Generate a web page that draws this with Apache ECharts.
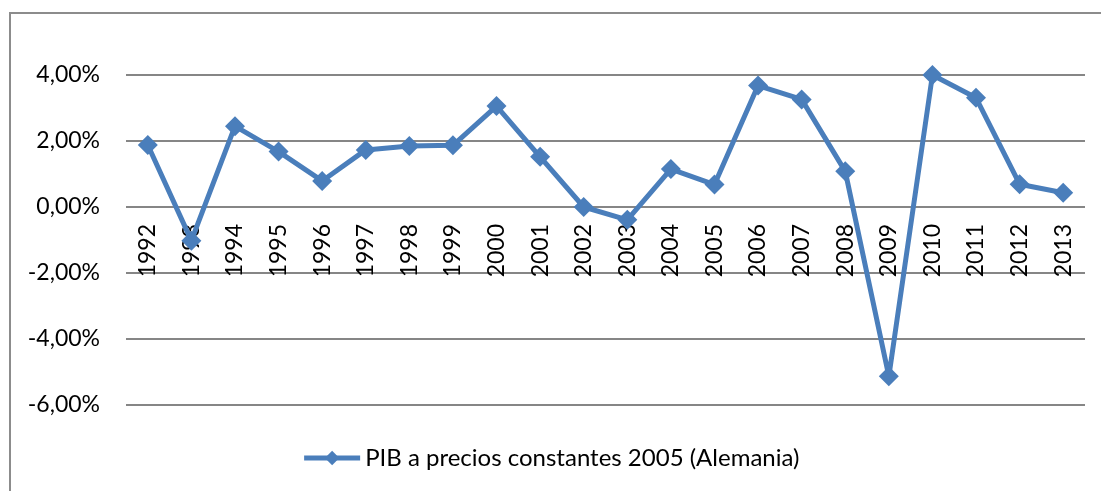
<!DOCTYPE html>
<html>
<head>
<meta charset="utf-8">
<script src="https://cdn.jsdelivr.net/npm/echarts@6/dist/echarts.min.js"></script>
<style>
  html, body { margin: 0; padding: 0; background: #fff; }
  #frame {
    position: absolute; left: 9px; top: 12px;
    width: 1100px; height: 490px;
    border: 2px solid #8c8c8c; box-sizing: border-box;
  }
  #chart { position: absolute; left: 0; top: 0; width: 1101px; height: 491px; }
</style>
</head>
<body>
<div id="frame"></div>
<div id="chart"></div>
<script>
  // años y crecimiento del PIB (%)
  const years = ['1992','1993','1994','1995','1996','1997','1998','1999','2000','2001','2002',
                 '2003','2004','2005','2006','2007','2008','2009','2010','2011','2012','2013'];
  const pib = [1.88, -1.02, 2.45, 1.68, 0.79, 1.73, 1.85, 1.87, 3.06, 1.52, 0.0,
               -0.39, 1.15, 0.68, 3.68, 3.26, 1.08, -5.13, 4.0, 3.31, 0.69, 0.43];
  const serieName = 'PIB a precios constantes 2005 (Alemania)';

  const font = 'Lato, "Liberation Sans", sans-serif';
  const azul = '#4a7ebb';
  let myChart = echarts.init(document.getElementById('chart'));
  let option = {
    animation: false,
    textStyle: { fontFamily: font },
    grid: { left: 126, right: 16, top: 75, bottom: 86, containLabel: false },
    legend: {
      bottom: 16,
      left: 'center',
      itemWidth: 56,
      itemHeight: 18,
      itemGap: 4,
      lineStyle: { width: 5, color: azul },
      textStyle: { fontSize: 24, color: '#000', fontFamily: font },
      data: [serieName]
    },
    xAxis: {
      type: 'category',
      data: years,
      boundaryGap: true,
      offset: -198, // el eje de categorías cruza en 0 %
      axisLine: { show: false },
      axisTick: { show: false },
      axisLabel: { rotate: 90, fontSize: 23, color: '#000', margin: 17, interval: 0 }
    },
    yAxis: {
      type: 'value',
      min: -6, max: 4, interval: 2,
      axisLine: { show: false },
      axisTick: { show: false },
      splitLine: { lineStyle: { color: '#868686', width: 2 } },
      axisLabel: {
        fontSize: 23, color: '#000', margin: 26,
        formatter: v => v.toFixed(2).replace('.', ',') + '%'
      }
    },
    series: [{
      name: serieName,
      type: 'line',
      data: pib,
      symbol: 'diamond',
      symbolSize: 20,
      itemStyle: { color: azul },
      lineStyle: { color: azul, width: 5 }
    }]
  };
  myChart.setOption(option);
</script>
</body>
</html>
